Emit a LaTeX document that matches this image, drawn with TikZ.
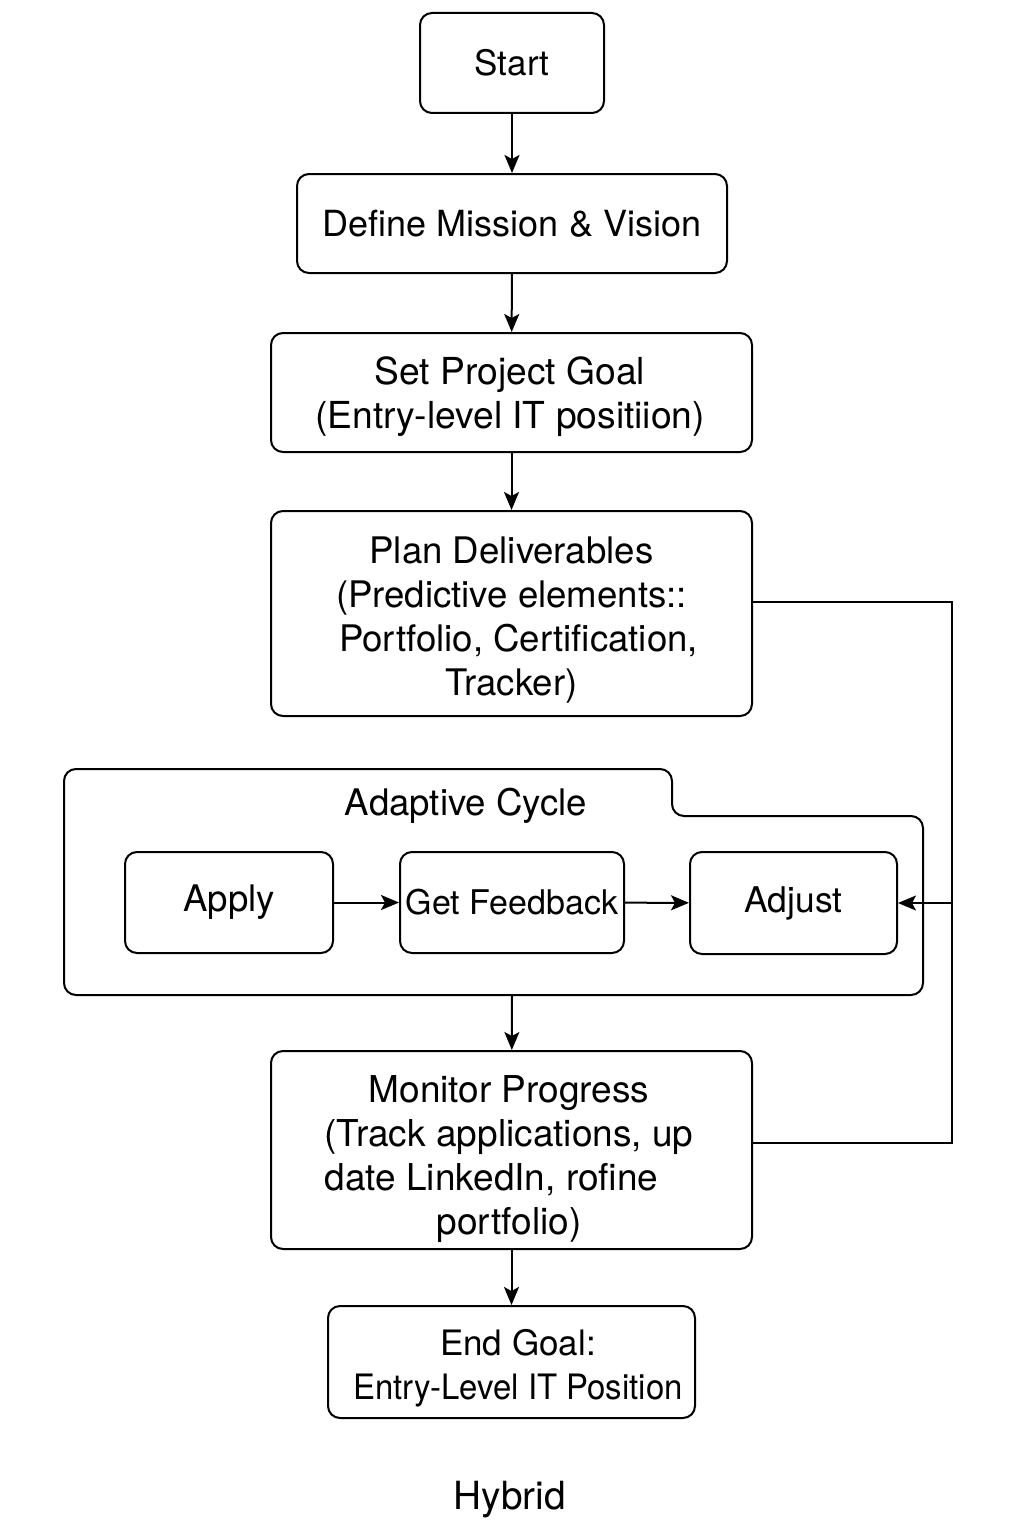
\documentclass[tikz,border=0pt]{standalone}
\usepackage{fontspec}
\setmainfont{TeX Gyre Heros}
\usetikzlibrary{arrows.meta}
\begin{document}
\begin{tikzpicture}[x=0.5pt,y=-0.5pt,
  box/.style={draw,line width=1pt,rounded corners=6pt,inner sep=0pt,align=center,
    font=\fontsize{17.5}{22}\selectfont},
  lbl/.style={inner sep=0pt,align=center,font=\fontsize{18.3}{22}\selectfont},
  conn/.style={line width=1pt},
  arr/.style={conn,-{Stealth[length=9pt,width=7.5pt,inset=2pt]}}]
\useasboundingbox (0,0) rectangle (1024,1536);
\node[box,minimum width=92pt,minimum height=50pt] (start) at (512,63) {Start};
\node[box,minimum width=215pt,minimum height=49.5pt,font=\fontsize{18}{22}\selectfont] (def) at (512,223.5) {Define Mission \& Vision};
\node[box,minimum width=240.5pt,minimum height=59.5pt] (goal) at (511.5,392.5) {};
\node[lbl,font=\fontsize{18.6}{22}\selectfont] (goaltxt) at (510,397) {Set Project Goal\\(Entry-level IT positiion)};
\node[box,minimum width=240.5pt,minimum height=102.5pt] (plan) at (511.5,613.5) {};
\node[lbl] (plantxt) at (511.5,620) {Plan Deliverables\\(Predictive elements::\hspace{8pt}\\\hspace{7pt}Portfolio, Certification,\\Tracker)};
% adaptive cycle container
\draw[line width=1pt,rounded corners=6pt] (64,769) -- (672,769) -- (672,816) -- (923,816) -- (923,995) -- (64,995) -- cycle;
\coordinate (cycbot) at (512,995);
\node[lbl] (cyclbl) at (466,806) {Adaptive Cycle};
\node[box,minimum width=104pt,minimum height=50.5pt,font=\fontsize{18.3}{22}\selectfont] (apply) at (229,902.5) {Apply};
\node[box,minimum width=112pt,minimum height=50.5pt,font=\fontsize{17}{22}\selectfont] (fb) at (512,902.5) {Get Feedback};
\node[box,minimum width=103.5pt,minimum height=51pt,font=\fontsize{17.7}{22}\selectfont] (adj) at (793.5,903) {Adjust};
\node[box,minimum width=240.5pt,minimum height=99pt] (mon) at (511.5,1150) {};
\node[lbl,font=\fontsize{18.5}{22}\selectfont] (montxt) at (509,1159) {Monitor Progress\\(Track applications, up\\\rlap{date LinkedIn, rofine}\phantom{(Track applications, up}\\portfolio)};
\node[box,minimum width=183.5pt,minimum height=56pt] (end) at (511.5,1362) {};
\node[lbl,font=\fontsize{17.5}{22}\selectfont] (endtxt) at (518,1368) {End Goal:\\\scalebox{0.94}[1]{Entry-Level IT Position}};
\node[inner sep=0pt,font=\fontsize{19.4}{22}\selectfont] (hyb) at (510,1500) {Hybrid};
% connectors
\draw[arr] (start) -- (def);
\draw[arr] (def) -- (goal);
\draw[arr] (goal) -- (plan);
\draw[arr] (cycbot) -- (mon);
\draw[arr] (mon) -- (end);
\draw[arr] (apply) -- (fb);
\draw[arr] (fb) -- (adj);
\coordinate (r1) at (952,602);
\coordinate (r2) at (952,1143);
\coordinate (rm) at (952,903);
\draw[conn] (plan.east |- r1) -- (r1) -- (r2) -- (mon.east |- r2);
\draw[arr] (rm) -- (adj.east);
\end{tikzpicture}
\end{document}
